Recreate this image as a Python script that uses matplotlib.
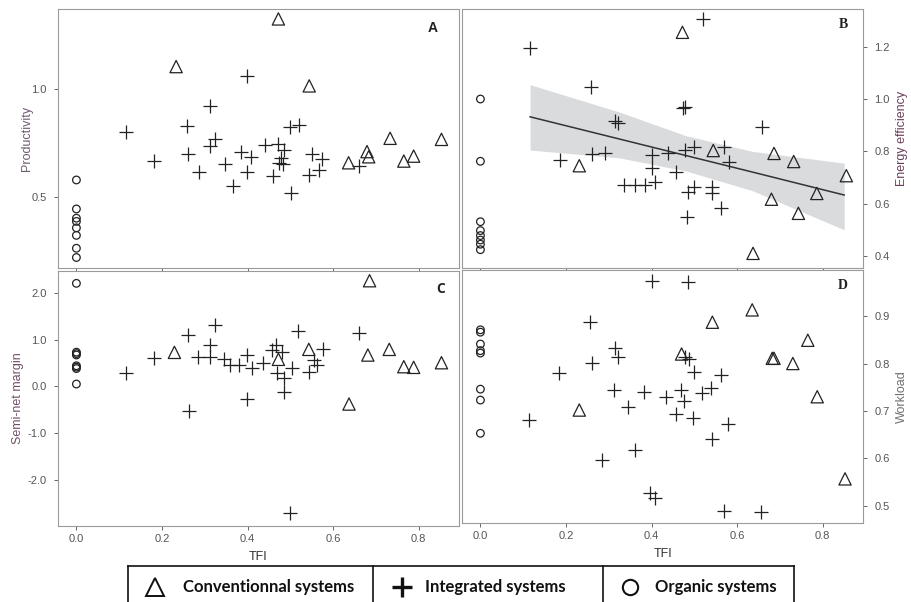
import matplotlib
matplotlib.use("Agg")
import matplotlib.pyplot as plt
from matplotlib.lines import Line2D

plt.rcParams['font.family'] = ['Liberation Sans', 'DejaVu Sans']

# --- Panel A: productivity ---
prod_conv_tfi = [0.472, 0.233, 0.544, 0.733, 0.853, 0.636, 0.679, 0.683, 0.765, 0.788]
prod_conv = [1.328, 1.106, 1.016, 0.772, 0.767, 0.658, 0.710, 0.686, 0.666, 0.689]
prod_int_tfi = [0.116, 0.182, 0.259, 0.261, 0.287, 0.312, 0.311, 0.324, 0.347, 0.367,
                0.384, 0.398, 0.409, 0.399, 0.440, 0.460, 0.472, 0.474, 0.485, 0.483,
                0.479, 0.500, 0.521, 0.501, 0.544, 0.550, 0.567, 0.575, 0.660]
prod_int = [0.800, 0.666, 0.829, 0.697, 0.613, 0.922, 0.738, 0.767, 0.651, 0.550,
            0.710, 0.616, 0.686, 1.062, 0.741, 0.598, 0.745, 0.658, 0.717, 0.651,
            0.679, 0.823, 0.834, 0.519, 0.601, 0.699, 0.624, 0.674, 0.644]
prod_org_tfi = [0.0, 0.0, 0.0, 0.0, 0.0, 0.0, 0.0, 0.0]
prod_org = [0.578, 0.443, 0.400, 0.385, 0.355, 0.320, 0.260, 0.217]

# --- Panel B: energy efficiency ---
ener_conv_tfi = [0.472, 0.231, 0.544, 0.686, 0.732, 0.855, 0.680, 0.786, 0.743, 0.637]
ener_conv = [1.255, 0.745, 0.803, 0.792, 0.761, 0.707, 0.617, 0.639, 0.563, 0.410]
ener_int_tfi = [0.117, 0.521, 0.258, 0.315, 0.322, 0.473, 0.478, 0.185, 0.260, 0.290,
                0.400, 0.400, 0.409, 0.336, 0.361, 0.384, 0.439, 0.458, 0.479, 0.499,
                0.485, 0.499, 0.483, 0.541, 0.540, 0.563, 0.569, 0.581, 0.657]
ener_int = [1.194, 1.306, 1.047, 0.917, 0.910, 0.964, 0.968, 0.767, 0.790, 0.795,
            0.786, 0.735, 0.684, 0.671, 0.671, 0.671, 0.792, 0.722, 0.805, 0.818,
            0.646, 0.665, 0.548, 0.665, 0.639, 0.582, 0.818, 0.758, 0.894]
ener_org_tfi = [0.0, 0.0, 0.0, 0.0, 0.0, 0.0, 0.0, 0.0]
ener_org = [1.000, 0.762, 0.531, 0.497, 0.478, 0.461, 0.445, 0.424]

# regression line and confidence band
fit_tfi = [0.116, 0.325, 0.480, 0.635, 0.850]
fit_line = [0.932, 0.847, 0.784, 0.721, 0.633]
fit_upper = [1.055, 0.950, 0.860, 0.800, 0.755]
fit_lower = [0.805, 0.775, 0.725, 0.650, 0.500]

# --- Panel C: semi-net margin ---
marg_conv_tfi = [0.685, 0.229, 0.543, 0.472, 0.681, 0.731, 0.765, 0.788, 0.853, 0.637]
marg_conv = [2.256, 0.726, 0.790, 0.577, 0.669, 0.790, 0.420, 0.406, 0.505, -0.377]
marg_int_tfi = [0.115, 0.182, 0.260, 0.262, 0.283, 0.311, 0.313, 0.324, 0.344, 0.359,
                0.381, 0.398, 0.410, 0.398, 0.437, 0.457, 0.467, 0.480, 0.469, 0.484,
                0.486, 0.504, 0.518, 0.543, 0.554, 0.562, 0.576, 0.660, 0.498]
marg_int = [0.278, 0.612, 1.096, -0.520, 0.619, 0.875, 0.633, 1.310, 0.577, 0.456,
            0.456, 0.669, 0.384, -0.278, 0.505, 0.776, 0.883, 0.740, 0.278, 0.171,
            -0.114, 0.384, 1.189, 0.313, 0.562, 0.456, 0.790, 1.132, -2.712]
marg_org_tfi = [0.0, 0.0, 0.0, 0.0, 0.0, 0.0, 0.0, 0.0]
marg_org = [2.20, 0.73, 0.70, 0.67, 0.44, 0.41, 0.38, 0.05]

# --- Panel D: workload ---
work_conv_tfi = [0.635, 0.542, 0.765, 0.682, 0.686, 0.730, 0.787, 0.231, 0.470, 0.852]
work_conv = [0.913, 0.887, 0.849, 0.811, 0.811, 0.800, 0.730, 0.702, 0.820, 0.557]
work_int_tfi = [0.400, 0.484, 0.256, 0.315, 0.322, 0.260, 0.183, 0.311, 0.383, 0.344,
                0.433, 0.468, 0.476, 0.478, 0.488, 0.499, 0.517, 0.538, 0.562, 0.458,
                0.496, 0.579, 0.542, 0.361, 0.285, 0.114, 0.396, 0.408, 0.569, 0.656]
work_int = [0.974, 0.972, 0.887, 0.832, 0.813, 0.802, 0.779, 0.744, 0.739, 0.709,
            0.730, 0.744, 0.722, 0.814, 0.809, 0.783, 0.737, 0.749, 0.776, 0.694,
            0.685, 0.673, 0.640, 0.617, 0.597, 0.681, 0.527, 0.516, 0.490, 0.488]
work_org_tfi = [0.0, 0.0, 0.0, 0.0, 0.0, 0.0, 0.0, 0.0]
work_org = [0.871, 0.866, 0.841, 0.827, 0.822, 0.746, 0.723, 0.653]

legend_labels = ['Conventionnal systems', 'Integrated systems', 'Organic systems']

INK = '#222222'
SPINE = '#9a9a9a'
TICKLAB = '#555555'


def scatter_groups(ax, conv, integ, org):
    ax.scatter(conv[0], conv[1], marker='^', s=78, facecolors='none',
               edgecolors=INK, linewidths=0.9, zorder=3)
    ax.scatter(integ[0], integ[1], marker='+', s=110, c=INK, linewidths=0.9, zorder=3)
    ax.scatter(org[0], org[1], marker='o', s=30, facecolors='none',
               edgecolors=INK, linewidths=0.9, zorder=3)


def style_axes(ax, right=False, xlabels=False):
    for sp in ax.spines.values():
        sp.set_color(SPINE)
        sp.set_linewidth(0.8)
    ax.set_xlim(-0.043, 0.894)
    ax.set_xticks([0.0, 0.2, 0.4, 0.6, 0.8])
    ax.tick_params(length=3, width=0.7, color='#666666', labelsize=8,
                   labelcolor=TICKLAB)
    ax.tick_params(axis='x', pad=3)
    ax.tick_params(axis='y', pad=5)
    if not xlabels:
        ax.set_xticklabels([])
    else:
        ax.set_xticklabels(['0.0', '0.2', '0.4', '0.6', '0.8'])
        ax.set_xlabel('TFI', fontsize=9, color='#333333', labelpad=5)
    if right:
        ax.yaxis.tick_right()
        ax.yaxis.set_label_position('right')


fig = plt.figure(figsize=(9.12, 6.02), dpi=100)
ax_a = fig.add_axes([0.0636, 0.5548, 0.4397, 0.4302])
ax_b = fig.add_axes([0.5066, 0.5548, 0.4397, 0.4302])
ax_c = fig.add_axes([0.0636, 0.1262, 0.4397, 0.4236])
ax_d = fig.add_axes([0.5066, 0.1312, 0.4397, 0.4203])

# A
scatter_groups(ax_a, (prod_conv_tfi, prod_conv), (prod_int_tfi, prod_int),
               (prod_org_tfi, prod_org))
style_axes(ax_a)
ax_a.set_ylim(0.168, 1.374)
ax_a.set_yticks([0.5, 1.0])
ax_a.set_yticklabels(['0.5', '1.0'])
ax_a.set_ylabel('Productivity', fontsize=9, color='#6e5a70')
ax_a.yaxis.set_label_coords(-0.062, 0.5)
ax_a.text(0.935, 0.925, 'A', transform=ax_a.transAxes, fontsize=10,
          fontweight='bold', color='#222222', ha='center', va='center')

# B
ax_b.fill_between(fit_tfi, fit_lower, fit_upper, color='#d9dbdd', lw=0, zorder=1)
ax_b.plot(fit_tfi, fit_line, color='#333333', lw=1.1, zorder=2)
scatter_groups(ax_b, (ener_conv_tfi, ener_conv), (ener_int_tfi, ener_int),
               (ener_org_tfi, ener_org))
style_axes(ax_b, right=True)
ax_b.set_ylim(0.354, 1.344)
ax_b.set_yticks([0.4, 0.6, 0.8, 1.0, 1.2])
ax_b.set_yticklabels(['0.4', '0.6', '0.8', '1.0', '1.2'])
ax_b.set_ylabel('Energy efficiency', fontsize=9, color='#6b3d5c', rotation=90)
ax_b.yaxis.set_label_coords(1.083, 0.5)
ax_b.text(0.95, 0.94, 'B', transform=ax_b.transAxes, fontsize=10,
          fontweight='bold', family='Liberation Serif', color='#222222',
          ha='center', va='center')

# C
scatter_groups(ax_c, (marg_conv_tfi, marg_conv), (marg_int_tfi, marg_int),
               (marg_org_tfi, marg_org))
style_axes(ax_c, xlabels=True)
ax_c.set_ylim(-2.982, 2.463)
ax_c.set_yticks([-2.0, -1.0, 0.0, 1.0, 2.0])
ax_c.set_yticklabels(['-2.0', '-1.0', '0.0', '1.0', '2.0'])
ax_c.set_ylabel('Semi-net margin', fontsize=9, color='#705068')
ax_c.yaxis.set_label_coords(-0.085, 0.5)
ax_c.text(0.955, 0.93, 'C', transform=ax_c.transAxes, fontsize=10,
          fontweight='bold', family='Open Sans', color='#222222',
          ha='center', va='center')

# D
scatter_groups(ax_d, (work_conv_tfi, work_conv), (work_int_tfi, work_int),
               (work_org_tfi, work_org))
style_axes(ax_d, right=True, xlabels=True)
ax_d.set_ylim(0.464, 0.997)
ax_d.set_yticks([0.5, 0.6, 0.7, 0.8, 0.9])
ax_d.set_yticklabels(['0.5', '0.6', '0.7', '0.8', '0.9'])
ax_d.set_ylabel('Workload', fontsize=9, color='#707070', rotation=90)
ax_d.yaxis.set_label_coords(1.083, 0.5)
ax_d.text(0.95, 0.94, 'D', transform=ax_d.transAxes, fontsize=10,
          fontweight='bold', family='Liberation Serif', color='#222222',
          ha='center', va='center')

# legend box along the bottom edge (pixel positions turned into figure fractions)
W, H = 912.0, 602.0


def fx(px):
    return px / W


def fy(py):
    return 1 - py / H


box_left, box_right, box_top = 128, 794, 566
dividers = [373, 603]
fig.add_artist(Line2D([fx(box_left), fx(box_left)], [fy(box_top), 0], color='#111111', lw=1.2))
fig.add_artist(Line2D([fx(box_right), fx(box_right)], [fy(box_top), 0], color='#111111', lw=1.2))
fig.add_artist(Line2D([fx(box_left), fx(box_right)], [fy(box_top), fy(box_top)], color='#111111', lw=1.2))
for d in dividers:
    fig.add_artist(Line2D([fx(d), fx(d)], [fy(box_top), 0], color='#111111', lw=1.2))

row_y = fy(587)
legend_markers = [('^', 155, 13, 1.4), ('+', 402, 14, 2.4), ('o', 630, 11, 1.5)]
text_x = [183, 425, 655]
for (mk, mx, ms, mw), tx, lab in zip(legend_markers, text_x, legend_labels):
    fig.add_artist(Line2D([fx(mx)], [row_y], marker=mk, markersize=ms,
                          markerfacecolor='none', markeredgecolor='#111111',
                          markeredgewidth=mw, color='#111111', linestyle='none'))
    fig.text(fx(tx), row_y, lab, fontsize=12, fontweight='bold', family='Lato',
             color='#111111', ha='left', va='center')

fig.savefig('out.png', dpi=100)
